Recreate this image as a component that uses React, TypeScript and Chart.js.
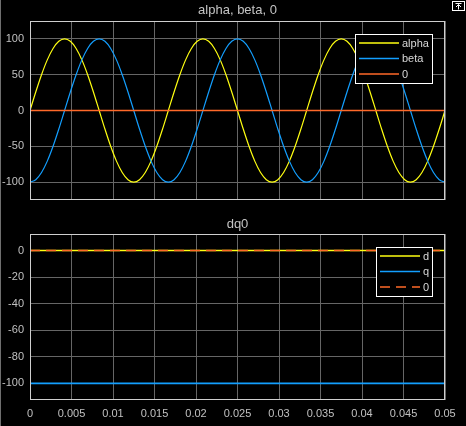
import React, { useEffect, useRef } from "react";
import { Chart, registerables } from "chart.js";

Chart.register(...registerables);
Chart.defaults.font.family = "'Liberation Sans', Arial, Helvetica, sans-serif";

// ---- data ----
const times = [
  0, 0.000694, 0.001389, 0.002083, 0.002778, 0.003472, 0.004167, 0.004861, 0.005556, 0.00625,
  0.006944, 0.007639, 0.008333, 0.009028, 0.009722, 0.010417, 0.011111, 0.011806, 0.0125, 0.013194,
  0.013889, 0.014583, 0.015278, 0.015972, 0.016667, 0.017361, 0.018056, 0.01875, 0.019444, 0.020139,
  0.020833, 0.021528, 0.022222, 0.022917, 0.023611, 0.024306, 0.025, 0.025694, 0.026389, 0.027083,
  0.027778, 0.028472, 0.029167, 0.029861, 0.030556, 0.03125, 0.031944, 0.032639, 0.033333, 0.034028,
  0.034722, 0.035417, 0.036111, 0.036806, 0.0375, 0.038194, 0.038889, 0.039583, 0.040278, 0.040972,
  0.041667, 0.042361, 0.043056, 0.04375, 0.044444, 0.045139, 0.045833, 0.046528, 0.047222, 0.047917,
  0.048611, 0.049306, 0.05,
];
const alphaValues = [
  0, 25.9, 50, 70.7, 86.6, 96.6, 100, 96.6, 86.6, 70.7, 50, 25.9,
  0, -25.9, -50, -70.7, -86.6, -96.6, -100, -96.6, -86.6, -70.7, -50, -25.9,
  0, 25.9, 50, 70.7, 86.6, 96.6, 100, 96.6, 86.6, 70.7, 50, 25.9,
  0, -25.9, -50, -70.7, -86.6, -96.6, -100, -96.6, -86.6, -70.7, -50, -25.9,
  0, 25.9, 50, 70.7, 86.6, 96.6, 100, 96.6, 86.6, 70.7, 50, 25.9,
  0, -25.9, -50, -70.7, -86.6, -96.6, -100, -96.6, -86.6, -70.7, -50, -25.9,
  0,
];
const betaValues = [
  -100, -96.6, -86.6, -70.7, -50, -25.9, 0, 25.9, 50, 70.7, 86.6, 96.6,
  100, 96.6, 86.6, 70.7, 50, 25.9, 0, -25.9, -50, -70.7, -86.6, -96.6,
  -100, -96.6, -86.6, -70.7, -50, -25.9, 0, 25.9, 50, 70.7, 86.6, 96.6,
  100, 96.6, 86.6, 70.7, 50, 25.9, 0, -25.9, -50, -70.7, -86.6, -96.6,
  -100, -96.6, -86.6, -70.7, -50, -25.9, 0, 25.9, 50, 70.7, 86.6, 96.6,
  100, 96.6, 86.6, 70.7, 50, 25.9, 0, -25.9, -50, -70.7, -86.6, -96.6,
  -100,
];
const spanTimes = [0, 0.05];
const zeroValues = [0, 0];
const dValues = [0, 0];
const qValues = [-100, -100];
const dqZeroValues = [0, 0];

const xTicks = [0, 0.005, 0.01, 0.015, 0.02, 0.025, 0.03, 0.035, 0.04, 0.045, 0.05];
const yTicksTop = [-100, -50, 0, 50, 100];
const yTicksBottom = [-100, -80, -60, -40, -20, 0];

const topTitle = "alpha, beta, 0";
const bottomTitle = "dq0";
const topLabels = ["alpha", "beta", "0"];
const bottomLabels = ["d", "q", "0"];

// ---- styles ----
const YELLOW = "#FFFF11";
const BLUE = "#139FFF";
const ORANGE = "#FF6929";
const GRID = "#666666";
const FRAME = "#cfcfcf";
const TICK = "#c0c0c0";
const TITLE = "#c4c4c4";
const LEGEND_TEXT = "#d8d8d8";

const pts = (xs: number[], ys: number[]) => xs.map((x, i) => ({ x, y: ys[i] }));

const frameAndLegend = {
  id: "frameAndLegend",
  afterDatasetsDraw(chart: any) {
    const ctx = chart.ctx as CanvasRenderingContext2D;
    const a = chart.chartArea;
    ctx.save();
    // axes box
    ctx.strokeStyle = FRAME;
    ctx.lineWidth = 1;
    ctx.strokeRect(Math.round(a.left) + 0.5, Math.round(a.top) + 0.5, Math.round(a.right - a.left) - 1, Math.round(a.bottom - a.top) - 1);

    // legend
    const items = chart.data.datasets;
    ctx.font = "11px 'Liberation Sans', Arial, Helvetica, sans-serif";
    const textW = Math.max(...items.map((d: any) => ctx.measureText(d.label).width));
    const padL = 4, lineLen = 40, gap = 3, padR = 3, rowH = 15.5, padTop = 9;
    const w = Math.round(padL + lineLen + gap + textW + padR);
    const h = Math.round(padTop * 2 + rowH * (items.length - 1));
    const right = Math.round(a.right) - 13;
    const top = Math.round(a.top) + 13;
    const left = right - w;
    ctx.fillStyle = "#000";
    ctx.fillRect(left, top, w, h);
    ctx.strokeStyle = "#ffffff";
    ctx.lineWidth = 1;
    ctx.strokeRect(left + 0.5, top + 0.5, w, h);
    items.forEach((d: any, i: number) => {
      const y = top + padTop + i * rowH;
      ctx.strokeStyle = d.borderColor;
      ctx.lineWidth = 1.3;
      ctx.setLineDash(d.borderDash || []);
      ctx.beginPath();
      ctx.moveTo(left + padL, y);
      ctx.lineTo(left + padL + lineLen, y);
      ctx.stroke();
      ctx.setLineDash([]);
      ctx.fillStyle = LEGEND_TEXT;
      ctx.textBaseline = "middle";
      ctx.textAlign = "left";
      ctx.fillText(d.label, left + padL + lineLen + gap, y + 0.5);
    });
    ctx.restore();
  },
};

function xScale(showLabels: boolean, height: number) {
  return {
    type: "linear",
    min: 0,
    max: 0.05,
    afterBuildTicks: (ax: any) => {
      ax.ticks = xTicks.map((v) => ({ value: v }));
    },
    afterFit: (s: any) => {
      s.height = height;
    },
    ticks: {
      display: showLabels,
      color: TICK,
      font: { size: 11 },
      padding: 7,
      autoSkip: false,
      maxRotation: 0,
      callback: (v: any) => String(v),
    },
    grid: { color: GRID, drawTicks: false, lineWidth: 1 },
    border: { display: false },
  };
}

function yScale(min: number, max: number, ticks: number[]) {
  return {
    type: "linear",
    min,
    max,
    afterBuildTicks: (ax: any) => {
      ax.ticks = ticks.map((v) => ({ value: v }));
    },
    afterFit: (s: any) => {
      s.width = 30;
    },
    ticks: {
      color: TICK,
      font: { size: 11 },
      padding: 6,
      callback: (v: any) => String(v),
    },
    grid: { color: GRID, drawTicks: false, lineWidth: 1 },
    border: { display: false },
  };
}

function lineDs(label: string, xs: number[], ys: number[], color: string, order: number, width: number, dash?: number[]) {
  return {
    label,
    data: pts(xs, ys),
    borderColor: color,
    backgroundColor: color,
    borderWidth: width,
    borderDash: dash,
    pointRadius: 0,
    fill: false,
    cubicInterpolationMode: "monotone",
    order,
  };
}

function topConfig(): any {
  return {
    type: "line",
    data: {
      datasets: [
        lineDs(topLabels[0], times, alphaValues, YELLOW, 2, 1.2),
        lineDs(topLabels[1], times, betaValues, BLUE, 1, 1.2),
        lineDs(topLabels[2], spanTimes, zeroValues, ORANGE, 0, 1.6),
      ],
    },
    options: {
      responsive: false,
      animation: false,
      events: [],
      layout: { padding: { top: 0, right: 21, left: 0, bottom: 0 } },
      scales: { x: xScale(false, 14), y: yScale(-125, 125, yTicksTop) },
      plugins: {
        legend: { display: false },
        tooltip: { enabled: false },
        title: {
          display: true,
          text: topTitle,
          color: TITLE,
          fullSize: false,
          font: { size: 13, weight: "normal" },
          padding: { top: 2.6, bottom: 2.8 },
        },
      },
    },
    plugins: [frameAndLegend],
  };
}

function bottomConfig(): any {
  return {
    type: "line",
    data: {
      datasets: [
        lineDs(bottomLabels[0], spanTimes, dValues, YELLOW, 2, 1.5),
        lineDs(bottomLabels[1], spanTimes, qValues, BLUE, 1, 1.6),
        lineDs(bottomLabels[2], spanTimes, dqZeroValues, ORANGE, 0, 1.5, [10, 6]),
      ],
    },
    options: {
      responsive: false,
      animation: false,
      events: [],
      layout: { padding: { top: 13.6, right: 21, left: 0, bottom: 0 } },
      scales: { x: xScale(true, 26), y: yScale(-112.5, 12.5, yTicksBottom) },
      plugins: {
        legend: { display: false },
        tooltip: { enabled: false },
        title: {
          display: true,
          text: bottomTitle,
          color: TITLE,
          fullSize: false,
          font: { size: 13, weight: "normal" },
          padding: { top: 2.6, bottom: 2.2 },
        },
      },
    },
    plugins: [frameAndLegend],
  };
}

export default function App() {
  const topRef = useRef<HTMLCanvasElement>(null);
  const botRef = useRef<HTMLCanvasElement>(null);

  useEffect(() => {
    const top = new Chart(topRef.current as HTMLCanvasElement, topConfig());
    const bot = new Chart(botRef.current as HTMLCanvasElement, bottomConfig());
    return () => {
      top.destroy();
      bot.destroy();
    };
  }, []);

  return (
    <div
      style={{
        position: "fixed",
        left: 0,
        top: 0,
        width: 466,
        height: 426,
        background: "#000",
        overflow: "hidden",
      }}
    >
      <div style={{ position: "absolute", left: 0, top: 0, width: 1, height: 426, background: "#6f6f6f" }} />
      <canvas
        ref={topRef}
        width={466}
        height={214}
        style={{ position: "absolute", left: 0, top: 0, width: 466, height: 214 }}
      />
      <canvas
        ref={botRef}
        width={466}
        height={226}
        style={{ position: "absolute", left: 0, top: 200, width: 466, height: 226 }}
      />
      <svg
        width={14}
        height={11}
        viewBox="0 0 14 11"
        style={{ position: "absolute", left: 452, top: 1 }}
      >
        <rect x={0.5} y={0.5} width={12} height={9} fill="none" stroke="#ffffff" strokeWidth={1} />
        <line x1={3.5} y1={2.5} x2={9.5} y2={2.5} stroke="#ffffff" strokeWidth={1} />
        <line x1={6.5} y1={3.5} x2={6.5} y2={8.5} stroke="#ffffff" strokeWidth={1} />
        <polyline points="4,6 6.5,3.5 9,6" fill="none" stroke="#ffffff" strokeWidth={1} />
      </svg>
    </div>
  );
}
